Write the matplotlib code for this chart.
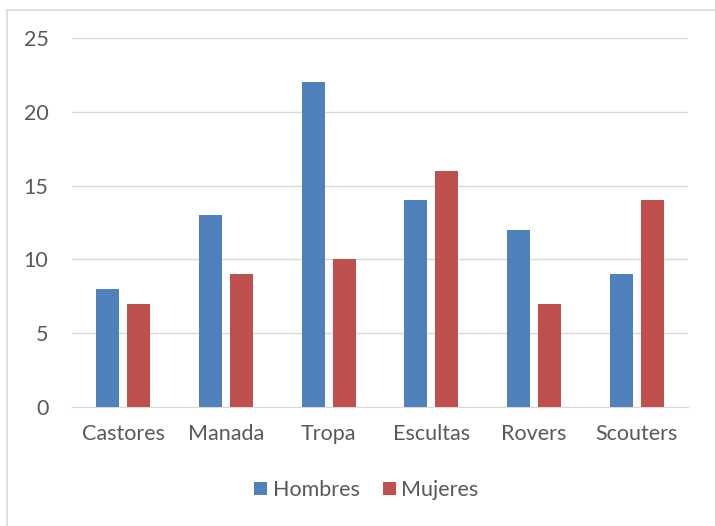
import matplotlib
matplotlib.use("Agg")
import matplotlib.pyplot as plt
from matplotlib.lines import Line2D
import numpy as np

categories = ["Castores", "Manada", "Tropa", "Escultas", "Rovers", "Scouters"]
hombres = [8, 13, 22, 14, 12, 9]
mujeres = [7, 9, 10, 16, 7, 14]
yticks = [0, 5, 10, 15, 20, 25]

plt.rcParams['font.family'] = ['Lato', 'DejaVu Sans']

W, H = 715, 526
fig = plt.figure(figsize=(W/100, H/100), dpi=100)
ax = fig.add_axes([72/W, 1-407/H, (688-72)/W, (407-38)/H])

x = np.arange(len(categories))
w = 0.225
off = 0.152
ax.bar(x - off, hombres, w, color="#4F81BD", label="Hombres", zorder=3)
ax.bar(x + off, mujeres, w, color="#C0504D", label="Mujeres", zorder=3)

ax.set_xlim(-0.5, len(categories) - 0.5)
ax.set_ylim(0, 25)
ax.set_yticks(yticks)
ax.set_xticks(x)
ax.set_xticklabels(categories)
ax.yaxis.grid(True, color="#D9D9D9", linewidth=1, zorder=0)
for s in ["top", "right", "left"]:
    ax.spines[s].set_visible(False)
ax.spines["bottom"].set_color("#D9D9D9")
ax.tick_params(axis="both", length=0, labelsize=15.5, labelcolor="#595959")
ax.tick_params(axis="x", pad=12)
ax.tick_params(axis="y", pad=17)
for lab in ax.get_yticklabels():
    lab.set_horizontalalignment("right")

leg = ax.legend(loc="center", bbox_to_anchor=(366.5/W, (H-490)/H), bbox_transform=fig.transFigure,
                ncol=2, frameon=False, fontsize=15.5, handlelength=0.6, handleheight=0.6,
                handletextpad=0.25, columnspacing=1.1, labelcolor="#595959")

# chart-area border (right and bottom edges fall outside the image)
bx, by = 6.5, 9.5
fig.add_artist(Line2D([bx/W, bx/W], [0, 1 - by/H], transform=fig.transFigure, color="#D9D9D9", linewidth=1.2))
fig.add_artist(Line2D([bx/W, 1], [1 - by/H, 1 - by/H], transform=fig.transFigure, color="#D9D9D9", linewidth=1.2))

fig.savefig("out.png", dpi=100)
